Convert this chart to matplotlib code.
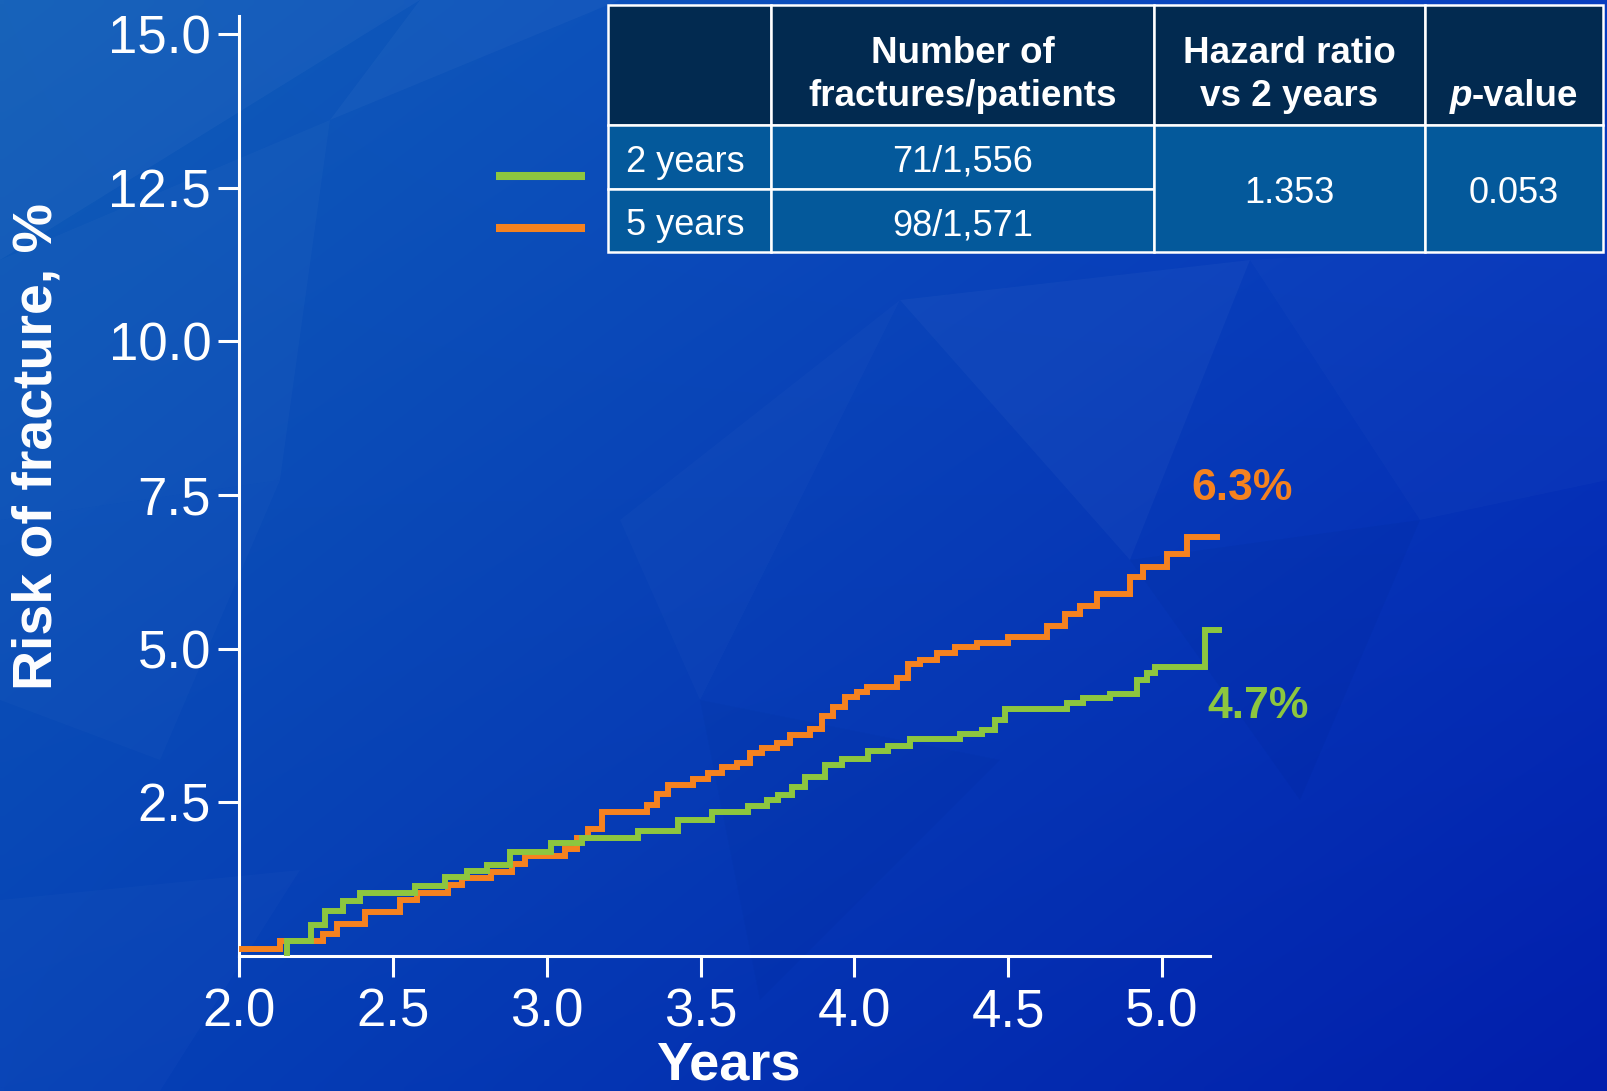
import numpy as np
import matplotlib.pyplot as plt
from matplotlib.patches import Rectangle, Polygon
from matplotlib.lines import Line2D

plt.rcParams['font.family'] = ['Liberation Sans', 'DejaVu Sans']

W, H, DPI = 1608, 1091, 100

ORANGE = '#F5821F'
GREEN = '#8DC63F'
HEADER_BG = '#022A50'
BODY_BG = '#04599B'

# cumulative fracture risk (%) by follow-up year, step curves
years_5y = [2.0, 2.133, 2.273, 2.318, 2.41, 2.523, 2.578, 2.68, 2.725, 2.82,
            2.887, 2.93, 3.06, 3.10, 3.134, 3.18, 3.326, 3.358, 3.394, 3.476,
            3.524, 3.57, 3.618, 3.66, 3.70, 3.748, 3.79, 3.856, 3.895, 3.93,
            3.97, 4.008, 4.04, 4.138, 4.174, 4.213, 4.27, 4.327, 4.40, 4.50,
            4.626, 4.685, 4.733, 4.788, 4.896, 4.938, 5.016, 5.08, 5.178]
risk_5y = [0.11, 0.24, 0.36, 0.52, 0.72, 0.91, 1.02, 1.15, 1.27, 1.37,
           1.50, 1.62, 1.74, 1.92, 2.06, 2.35, 2.46, 2.64, 2.78, 2.88,
           2.98, 3.07, 3.14, 3.30, 3.38, 3.46, 3.60, 3.69, 3.90, 4.05,
           4.21, 4.30, 4.38, 4.52, 4.75, 4.82, 4.93, 5.03, 5.09, 5.19,
           5.37, 5.56, 5.70, 5.89, 6.16, 6.33, 6.54, 6.82, 6.82]

years_2y = [2.155, 2.155, 2.234, 2.28, 2.338, 2.393, 2.572, 2.67, 2.74, 2.806,
            2.88, 3.014, 3.115, 3.297, 3.427, 3.537, 3.654, 3.716, 3.752, 3.797,
            3.84, 3.905, 3.96, 4.044, 4.11, 4.18, 4.343, 4.415, 4.457, 4.49,
            4.69, 4.743, 4.83, 4.92, 4.95, 4.977, 5.14, 5.185]
risk_2y = [0.0, 0.24, 0.51, 0.74, 0.89, 1.02, 1.14, 1.29, 1.38, 1.48,
           1.70, 1.84, 1.92, 2.04, 2.21, 2.34, 2.44, 2.54, 2.62, 2.75,
           2.91, 3.10, 3.21, 3.33, 3.42, 3.53, 3.61, 3.68, 3.84, 4.02,
           4.11, 4.19, 4.27, 4.49, 4.60, 4.70, 5.30, 5.30]

y_ticks = [2.5, 5.0, 7.5, 10.0, 12.5, 15.0]
x_ticks = [2.0, 2.5, 3.0, 3.5, 4.0, 4.5, 5.0]

# summary table
header = ['', 'Number of\nfractures/patients', 'Hazard ratio\nvs 2 years', 'p-value']
arm_names = ['2 years', '5 years']
fractures = ['71/1,556', '98/1,571']
hazard_ratio = '1.353'
p_value = '0.053'


def risk_at(ts, vs, t):
    i = np.searchsorted(ts, t, side='right') - 1
    return vs[i]


fig = plt.figure(figsize=(W / DPI, H / DPI), dpi=DPI)

# background: blue gradient with a few faint facets
bg = fig.add_axes([0, 0, 1, 1], zorder=0)
gx = np.linspace(0, 1, 200)[None, :, None]
gy = np.linspace(0, 1, 140)[:, None, None]
tl = np.array([16, 94, 184]) / 255
tr = np.array([8, 62, 192]) / 255
bl = np.array([6, 66, 182]) / 255
br = np.array([2, 30, 172]) / 255
grad = (tl * (1 - gx) * (1 - gy) + tr * gx * (1 - gy)
        + bl * (1 - gx) * gy + br * gx * gy)
bg.imshow(grad, extent=[0, W, H, 0], aspect='auto', interpolation='bilinear')
facets = [
    ([(0, 0), (420, 0), (0, 260)], 0.035),
    ([(0, 260), (330, 120), (280, 480), (0, 520)], 0.025),
    ([(0, 520), (280, 480), (160, 760), (0, 700)], 0.02),
    ([(420, 0), (620, 0), (330, 120)], 0.03),
    ([(900, 300), (1250, 260), (1130, 560)], 0.03),
    ([(620, 520), (900, 300), (700, 700)], 0.02),
    ([(1250, 260), (1608, 240), (1608, 480), (1420, 520)], 0.02),
    ([(0, 900), (300, 870), (160, 1091), (0, 1091)], 0.02),
    ([(1130, 560), (1420, 520), (1300, 800)], -0.03),
    ([(700, 700), (1000, 760), (760, 1000)], -0.025),
]
for pts, a in facets:
    col = 'white' if a > 0 else '#000820'
    bg.add_patch(Polygon(pts, closed=True, facecolor=col, alpha=abs(a), lw=0))
bg.set_xlim(0, W)
bg.set_ylim(H, 0)
bg.axis('off')

# main plot, placed so that 2.0 -> x=239px, 0 -> y=956px
px_per_year = 307.67
px_per_pct = 61.47
x0, x1 = 2.0, 5.3
y0, y1 = 0.0, 15.3
left = 239 / W
bottom = (H - 956) / H
ax = fig.add_axes([left, bottom, (x1 - x0) * px_per_year / W,
                   (y1 - y0) * px_per_pct / H], zorder=1)
ax.set_facecolor('none')

ax.step(years_5y, risk_5y, where='post', color=ORANGE, lw=4.3,
        solid_joinstyle='miter', zorder=3)
ax.step(years_2y, risk_2y, where='post', color=GREEN, lw=4.3,
        solid_joinstyle='miter', zorder=4)

ax.set_xlim(x0, x1)
ax.set_ylim(y0, y1)
ax.set_xticks(x_ticks)
ax.set_xticklabels([f'{v:.1f}' for v in x_ticks])
ax.set_yticks(y_ticks)
ax.set_yticklabels([f'{v:.1f}' for v in y_ticks])
for side in ['top', 'right']:
    ax.spines[side].set_visible(False)
for side in ['left', 'bottom']:
    ax.spines[side].set_color('white')
    ax.spines[side].set_linewidth(2.2)
ax.spines['bottom'].set_bounds(2.0, 5.156)
ax.tick_params(axis='both', colors='white', labelcolor='white', width=2.2,
               length=15, labelsize=38)
ax.tick_params(axis='y', pad=5)
ax.tick_params(axis='x', pad=8)

# 5-year values as end labels
lab_5y = risk_at(years_5y, risk_5y, 5.0)
lab_2y = risk_at(years_2y, risk_2y, 5.0)
ax.text(5.097, 7.42, f'{lab_5y:.1f}%', color=ORANGE, fontsize=32,
        fontweight='bold', ha='left', va='baseline')
ax.text(5.149, 3.87, f'{lab_2y:.1f}%', color=GREEN, fontsize=32,
        fontweight='bold', ha='left', va='baseline')

fig.text(728 / W, 0.5 / H, 'Years', color='white', fontsize=39,
         fontweight='bold', ha='center', va='bottom')
fig.text(38 / W, 1 - 446 / H, 'Risk of fracture, %', color='white',
         fontsize=40, fontweight='bold', rotation=90, ha='center', va='center')

# overlay in pixel coordinates for the table and the legend keys
ov = fig.add_axes([0, 0, 1, 1], zorder=2)
ov.set_xlim(0, W)
ov.set_ylim(H, 0)
ov.axis('off')

cols = [608, 771, 1154, 1425, 1603]
rows = [5, 125, 189, 252]
cell_kw = dict(edgecolor='white', lw=1.8)
for c in range(4):
    ov.add_patch(Rectangle((cols[c], rows[0]), cols[c + 1] - cols[c],
                           rows[1] - rows[0], facecolor=HEADER_BG, **cell_kw))
for r in range(2):
    for c in range(2):
        ov.add_patch(Rectangle((cols[c], rows[r + 1]), cols[c + 1] - cols[c],
                               rows[r + 2] - rows[r + 1], facecolor=BODY_BG,
                               **cell_kw))
for c in (2, 3):
    ov.add_patch(Rectangle((cols[c], rows[1]), cols[c + 1] - cols[c],
                           rows[3] - rows[1], facecolor=BODY_BG, **cell_kw))

hdr_kw = dict(color='white', fontsize=26.5, fontweight='bold', ha='center',
              va='center', linespacing=1.3)
for c in (1, 2):
    ov.text((cols[c] + cols[c + 1]) / 2, 75, header[c], **hdr_kw)
p_split = 1472
ov.text(p_split, 96, header[3][0], color='white', fontsize=26.5,
        fontweight='bold', style='italic', ha='right', va='center')
ov.text(p_split, 96, header[3][1:], color='white', fontsize=26.5,
        fontweight='bold', ha='left', va='center')

body_kw = dict(color='white', fontsize=26, va='center')
row_mid = [(rows[1] + rows[2]) / 2 + 5, (rows[2] + rows[3]) / 2 + 5]
for r in range(2):
    ov.text(626, row_mid[r], arm_names[r], ha='left', **body_kw)
    ov.text((cols[1] + cols[2]) / 2, row_mid[r], fractures[r], ha='center',
            **body_kw)
ov.text((cols[2] + cols[3]) / 2, (rows[1] + rows[3]) / 2 + 5, hazard_ratio,
        ha='center', **body_kw)
ov.text((cols[3] + cols[4]) / 2, (rows[1] + rows[3]) / 2 + 5, p_value,
        ha='center', **body_kw)

# legend keys next to the table rows
ov.add_line(Line2D([496, 585], [176, 176], color=GREEN, lw=5.8,
                   solid_capstyle='butt'))
ov.add_line(Line2D([496, 585], [228, 228], color=ORANGE, lw=5.8,
                   solid_capstyle='butt'))

fig.savefig('out.png', dpi=DPI)
